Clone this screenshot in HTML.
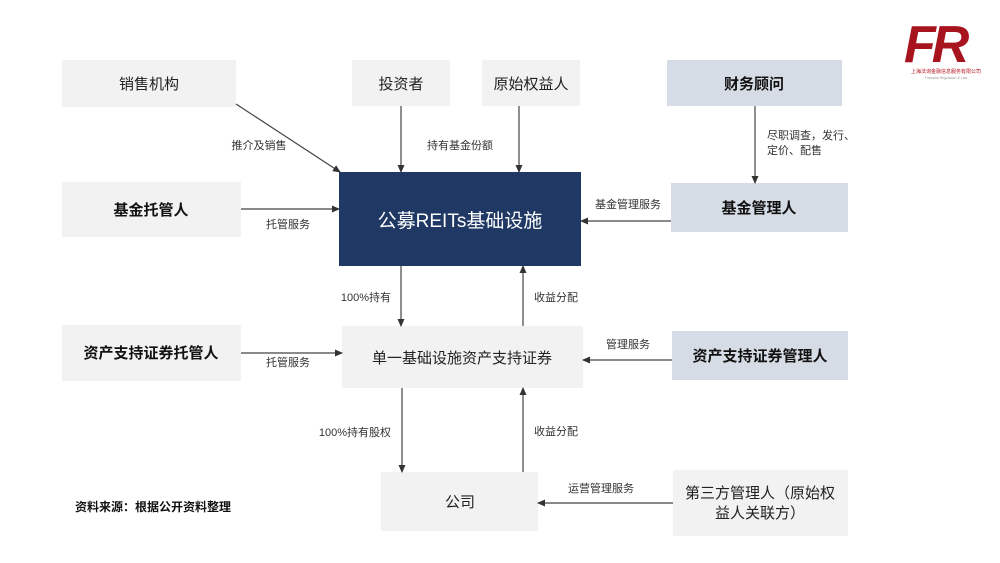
<!DOCTYPE html>
<html><head><meta charset="utf-8"><style>
html,body{margin:0;padding:0;background:#fff;}
svg{display:block;font-family:"Liberation Sans","Noto Sans CJK SC",sans-serif;}
.l{font-size:11px;fill:#333;}
.n{font-size:15px;fill:#222;}
.b{font-size:15px;fill:#111;font-weight:bold;}
</style></head><body>
<svg width="1000" height="563" viewBox="0 0 1000 563">
<defs><marker id="a" markerWidth="8" markerHeight="8" refX="7" refY="4" orient="auto" markerUnits="userSpaceOnUse"><path d="M0,0.5 L8,4 L0,7.5 z" fill="#333"/></marker></defs>
<!-- logo -->
<text x="904" y="62" font-size="52" font-style="italic" font-weight="bold" fill="#a8141e" style="font-family:'Liberation Sans',sans-serif" letter-spacing="-4">FR</text>
<text x="946" y="73" font-size="5" fill="#b3121f" text-anchor="middle">上海法询金融信息服务有限公司</text>
<text x="946" y="79" font-size="3.5" fill="#999" text-anchor="middle">Financial Regulation &amp; Law</text>
<!-- boxes -->
<g fill="#f2f2f2">
<rect x="62" y="60" width="174" height="47"/>
<rect x="352" y="60" width="98" height="46"/>
<rect x="482" y="60" width="98" height="46"/>
<rect x="62" y="182" width="179" height="55"/>
<rect x="62" y="325" width="179" height="56"/>
<rect x="342" y="326" width="241" height="62"/>
<rect x="381" y="472" width="157" height="59"/>
<rect x="673" y="470" width="175" height="66"/>
</g>
<g fill="#d6dce5">
<rect x="667" y="60" width="175" height="46"/>
<rect x="671" y="183" width="177" height="49"/>
<rect x="672" y="331" width="176" height="49"/>
</g>
<rect x="339" y="172" width="242" height="94" fill="#203864"/>
<!-- texts -->
<text class="n" x="149" y="89" text-anchor="middle">销售机构</text>
<text class="n" x="401" y="89" text-anchor="middle">投资者</text>
<text class="n" x="531" y="89" text-anchor="middle">原始权益人</text>
<text class="b" x="754" y="89" text-anchor="middle">财务顾问</text>
<text class="b" x="151" y="215" text-anchor="middle">基金托管人</text>
<text x="460" y="227" text-anchor="middle" font-size="19" fill="#fff">公募REITs基础设施</text>
<text class="b" x="759" y="213" text-anchor="middle">基金管理人</text>
<text class="b" x="151" y="358" text-anchor="middle">资产支持证券托管人</text>
<text class="n" x="462" y="363" text-anchor="middle">单一基础设施资产支持证券</text>
<text class="b" x="760" y="361" text-anchor="middle">资产支持证券管理人</text>
<text class="n" x="460" y="507" text-anchor="middle">公司</text>
<text class="n" x="760" y="498" text-anchor="middle">第三方管理人（原始权</text>
<text class="n" x="760" y="518" text-anchor="middle">益人关联方）</text>
<text x="75" y="511" font-size="12" fill="#111" font-weight="bold">资料来源：根据公开资料整理</text>
<!-- arrows -->
<g stroke="#444" stroke-width="1.2" marker-end="url(#a)">
<line x1="236" y1="104" x2="340" y2="172"/>
<line x1="401" y1="106" x2="401" y2="172"/>
<line x1="519" y1="106" x2="519" y2="172"/>
<line x1="755" y1="106" x2="755" y2="183"/>
<line x1="241" y1="209" x2="339" y2="209"/>
<line x1="671" y1="221" x2="581" y2="221"/>
<line x1="401" y1="266" x2="401" y2="326"/>
<line x1="523" y1="326" x2="523" y2="266"/>
<line x1="241" y1="353" x2="342" y2="353"/>
<line x1="672" y1="360" x2="583" y2="360"/>
<line x1="402" y1="388" x2="402" y2="472"/>
<line x1="523" y1="472" x2="523" y2="388"/>
<line x1="673" y1="503" x2="538" y2="503"/>
</g>
<!-- labels -->
<text class="l" x="259" y="149" text-anchor="middle">推介及销售</text>
<text class="l" x="460" y="149" text-anchor="middle">持有基金份额</text>
<text class="l" x="767" y="139">尽职调查，发行、</text>
<text class="l" x="767" y="154">定价、配售</text>
<text class="l" x="288" y="228" text-anchor="middle">托管服务</text>
<text class="l" x="628" y="208" text-anchor="middle">基金管理服务</text>
<text class="l" x="366" y="301" text-anchor="middle">100%持有</text>
<text class="l" x="556" y="301" text-anchor="middle">收益分配</text>
<text class="l" x="288" y="366" text-anchor="middle">托管服务</text>
<text class="l" x="628" y="348" text-anchor="middle">管理服务</text>
<text class="l" x="355" y="436" text-anchor="middle">100%持有股权</text>
<text class="l" x="556" y="435" text-anchor="middle">收益分配</text>
<text class="l" x="601" y="492" text-anchor="middle">运营管理服务</text>
</svg>
</body></html>
